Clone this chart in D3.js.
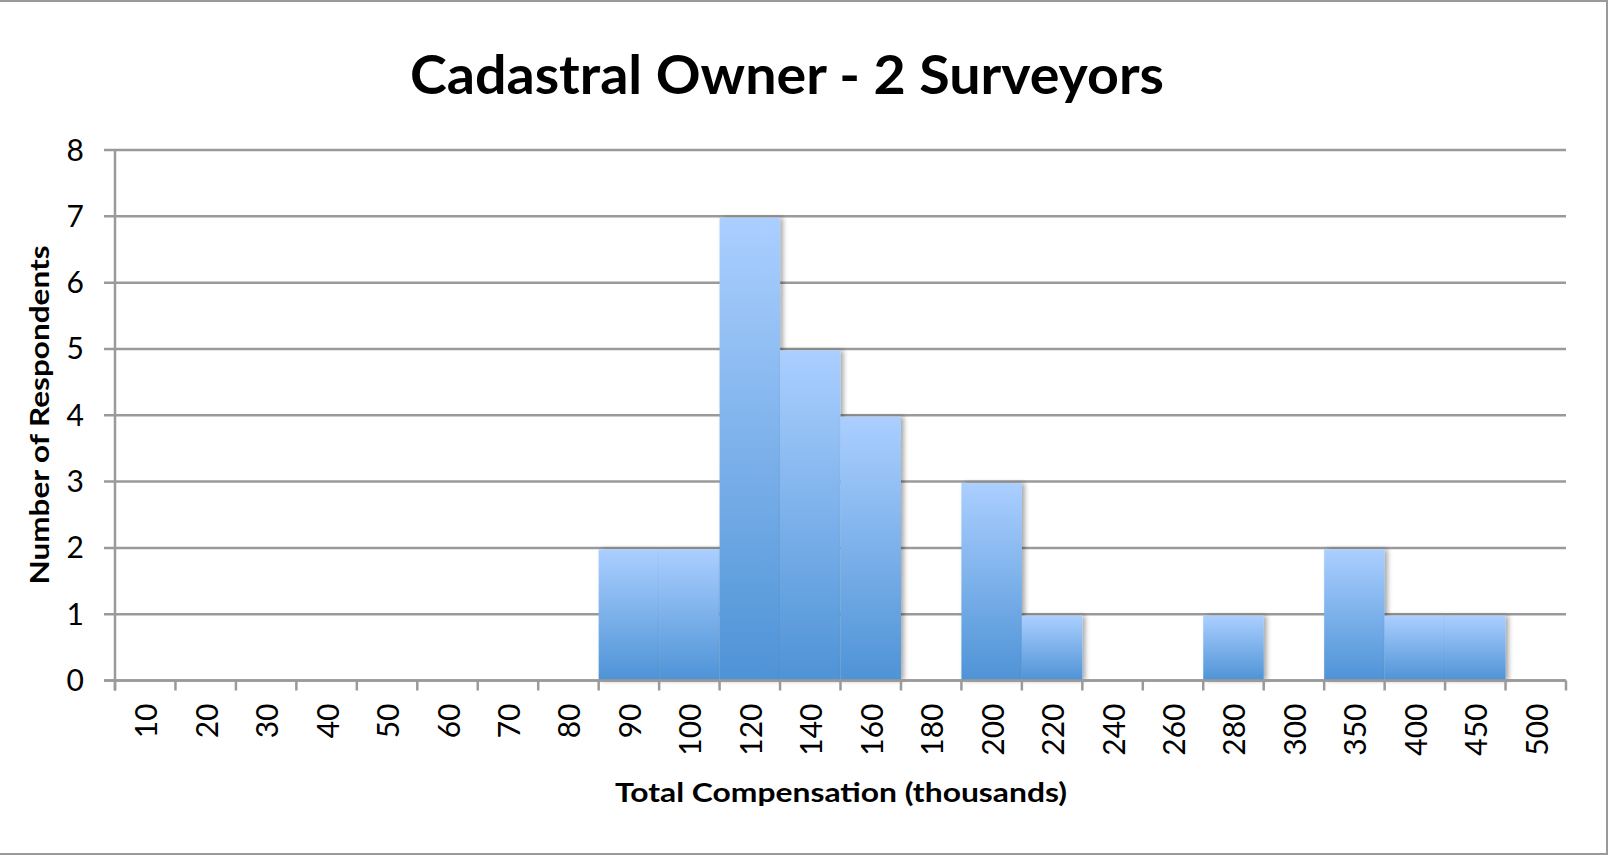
<!DOCTYPE html>
<html>
<head>
<meta charset="utf-8">
<script src="https://cdn.jsdelivr.net/npm/d3@7"></script>
<style>
  html, body { margin: 0; padding: 0; background: #fff; }
  svg { display: block; }
</style>
</head>
<body>
<script>
// ---- Data ----
const categories = ["10","20","30","40","50","60","70","80","90","100","120","140","160","180","200","220","240","260","280","300","350","400","450","500"];
const counts =     [0,0,0,0,0,0,0,0,2,2,7,5,4,0,3,1,0,0,1,0,2,1,1,0];
const yTicks = [0,1,2,3,4,5,6,7,8];
const title = "Cadastral Owner - 2 Surveyors";
const xTitle = "Total Compensation (thousands)";
const yTitle = "Number of Respondents";

// ---- Layout ----
const W = 1608, H = 855;
const M = { left: 115, right: W - 1566, top: 150, bottom: H - 680.5 };

const svg = d3.select("body").append("svg").attr("width", W).attr("height", H);

// outer border (top, right, bottom)
svg.append("path")
  .attr("d", `M0,1 H${W-1} V${H-1} H0`)
  .attr("fill", "none").attr("stroke", "#9a9a9a").attr("stroke-width", 2);

const x = d3.scaleBand().domain(categories).range([M.left, W - M.right]).padding(0);
const y = d3.scaleLinear().domain([0, 8]).range([H - M.bottom, M.top]);

const defs = svg.append("defs");
const grad = defs.append("linearGradient").attr("id", "barGrad")
  .attr("x1", 0).attr("y1", 0).attr("x2", 0).attr("y2", 1);
grad.append("stop").attr("offset", "0%").attr("stop-color", "#abcfff");
grad.append("stop").attr("offset", "100%").attr("stop-color", "#4e93d6");

const filt = defs.append("filter").attr("id", "shadow")
  .attr("x", "-20%").attr("y", "-10%").attr("width", "150%").attr("height", "120%");
filt.append("feGaussianBlur").attr("in", "SourceAlpha").attr("stdDeviation", 2.5).attr("result", "b");
filt.append("feOffset").attr("in", "b").attr("dx", 3).attr("dy", 0).attr("result", "o");
filt.append("feComponentTransfer").attr("in", "o").attr("result", "s")
  .append("feFuncA").attr("type", "linear").attr("slope", 0.35);
const fm = filt.append("feMerge");
fm.append("feMergeNode").attr("in", "s");
fm.append("feMergeNode").attr("in", "SourceGraphic");

const gridColor = "#9a9a9a";
const tickFont = "Lato";
const tickSize = 30;

// gridlines + y ticks
svg.append("g").selectAll("line").data(yTicks).join("line")
  .attr("x1", M.left - 11).attr("x2", W - M.right)
  .attr("y1", d => y(d)).attr("y2", d => y(d))
  .attr("stroke", gridColor).attr("stroke-width", 2.5);

// bars
const data = categories.map((c, i) => ({ c, v: counts[i] }));
svg.append("g").selectAll("rect").data(data.filter(d => d.v > 0)).join("rect")
  .attr("x", d => x(d.c))
  .attr("y", d => y(d.v) + 1.5)
  .attr("width", x.bandwidth())
  .attr("height", d => y(0) - y(d.v) - 1.5)
  .attr("fill", "url(#barGrad)")
  .attr("filter", "url(#shadow)");

// y axis line
svg.append("line")
  .attr("x1", M.left).attr("x2", M.left)
  .attr("y1", y(8)).attr("y2", y(0) + 10)
  .attr("stroke", gridColor).attr("stroke-width", 2.5);

// x axis line (on top of bars)
svg.append("line")
  .attr("x1", M.left - 11).attr("x2", W - M.right)
  .attr("y1", y(0)).attr("y2", y(0))
  .attr("stroke", gridColor).attr("stroke-width", 2.5);

// x ticks at band boundaries
const boundaries = categories.map(c => x(c)).concat([x(categories[categories.length-1]) + x.bandwidth()]);
svg.append("g").selectAll("line").data(boundaries).join("line")
  .attr("x1", d => d).attr("x2", d => d)
  .attr("y1", y(0)).attr("y2", y(0) + 10)
  .attr("stroke", gridColor).attr("stroke-width", 2.5);

// y tick labels
svg.append("g").selectAll("text").data(yTicks).join("text")
  .attr("x", 84).attr("y", d => y(d))
  .attr("dy", "0.35em")
  .attr("text-anchor", "end")
  .attr("font-family", tickFont)
  .attr("font-size", tickSize)
  .attr("fill", "#000")
  .text(d => d);

// x tick labels (rotated)
svg.append("g").selectAll("text").data(categories).join("text")
  .attr("transform", d => `translate(${x(d) + x.bandwidth()/2 + 1.5},${y(0) + 23}) rotate(-90)`)
  .attr("dy", "0.35em")
  .attr("text-anchor", "end")
  .attr("font-family", tickFont)
  .attr("font-size", tickSize)
  .attr("fill", "#000")
  .text(d => d);

// title
svg.append("text")
  .attr("x", 787).attr("y", 94)
  .attr("text-anchor", "middle")
  .attr("font-family", "Lato").attr("font-weight", "bold")
  .attr("font-size", 53)
  .attr("textLength", 754).attr("lengthAdjust", "spacingAndGlyphs")
  .text(title);

// x axis title
svg.append("text")
  .attr("x", 841).attr("y", 802)
  .attr("text-anchor", "middle")
  .attr("font-family", "Lato").attr("font-weight", "bold")
  .attr("font-size", 27)
  .attr("textLength", 452).attr("lengthAdjust", "spacingAndGlyphs")
  .text(xTitle);

// y axis title
svg.append("text")
  .attr("transform", "translate(49,415) rotate(-90)")
  .attr("text-anchor", "middle")
  .attr("font-family", "Lato").attr("font-weight", "bold")
  .attr("font-size", 27)
  .attr("textLength", 339).attr("lengthAdjust", "spacingAndGlyphs")
  .text(yTitle);
</script>
</body>
</html>
